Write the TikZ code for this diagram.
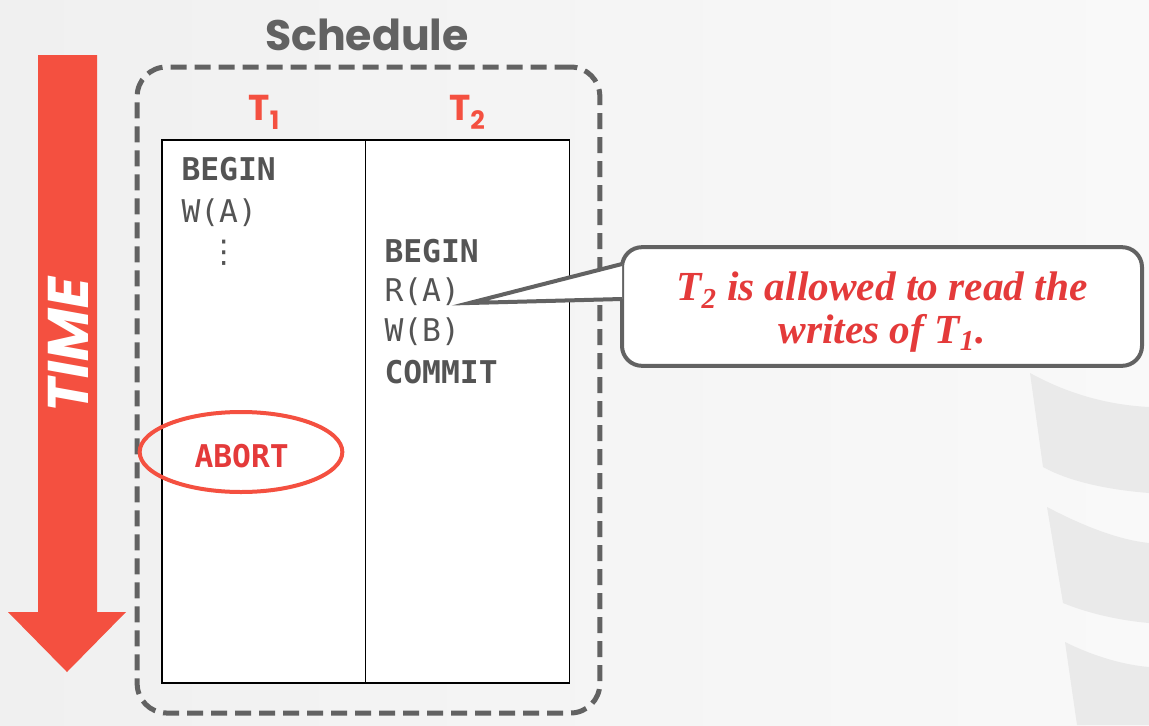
\documentclass[tikz,border=0pt]{standalone}
\usepackage{fontspec}
\setmainfont{Liberation Serif}
\newfontfamily\headfont{Poppins}
\newfontfamily\timefont{Poppins}[FakeSlant=0.18]
\newfontfamily\codefont{DejaVu Sans Mono}
\newfontfamily\symfont{DejaVu Sans}
\usetikzlibrary{shapes.geometric}

\definecolor{slidered}{RGB}{244,80,64}
\definecolor{notered}{RGB}{228,58,58}
\definecolor{boxgray}{RGB}{98,98,98}
\definecolor{codegray}{RGB}{84,84,84}
\definecolor{bgleft}{RGB}{240,240,240}
\definecolor{bgright}{RGB}{249,249,249}
\definecolor{dbgray}{RGB}{234,234,234}

\newcommand{\tsub}[1]{\raisebox{-7pt}{\fontsize{19}{19}\selectfont #1}}

\tikzset{every picture/.style={line width=0.75pt}}
\tikzset{
	code/.style={font=\codefont\fontsize{23.5}{28}\selectfont, text=codegray, inner sep=0.75pt, anchor=base west},
	codebold/.style={code, font=\codefont\bfseries\fontsize{23.5}{28}\selectfont},
	tlabel/.style={font=\headfont\bfseries\fontsize{27}{30}\selectfont, text=slidered, inner sep=0.75pt, anchor=base},
	column/.style={draw=black, fill=white, line width=1.1pt, minimum width=153pt, minimum height=407pt, inner sep=0pt},
	schedbox/.style={draw=boxgray, line width=3.75pt, dash pattern=on 12pt off 6pt, rounded corners=22pt, minimum width=347pt, minimum height=484.5pt, inner sep=0pt},
	abortring/.style={ellipse, draw=slidered, line width=3pt, minimum width=152pt, minimum height=60pt, inner sep=0pt},
	notebox/.style={draw=boxgray, fill=white, line width=3pt, rounded corners=15pt, minimum width=390pt, minimum height=89pt, inner sep=0pt},
	notetext/.style={align=center, text=notered, inner sep=0pt, font=\bfseries\itshape\fontsize{31}{32}\selectfont},
	pointer/.style={draw=boxgray, line width=3pt, line join=miter}
}

\begin{document}
\begin{tikzpicture}[x=0.75pt,y=0.75pt,yscale=-1,xscale=1]
	
	\useasboundingbox (0,0) rectangle (1149,725);
	\shade[left color=bgleft, right color=bgright] (0,0) rectangle (1149,725);
	
	% faint database in the background
	\fill[dbgray] (1030,373) .. controls (1070,395) and (1110,405) .. (1149,407) -- (1149,493) .. controls (1110,490) and (1070,482) .. (1043,467) -- cycle ;
	\fill[dbgray] (1047,507) .. controls (1085,527) and (1120,540) .. (1149,543) -- (1149,623) .. controls (1115,620) and (1085,612) .. (1063,603) -- cycle ;
	\fill[dbgray] (1065,642) .. controls (1095,657) and (1125,665) .. (1149,667) -- (1149,725) -- (1077,725) -- cycle ;
	
	% time arrow
	\fill[slidered] (38,55) -- (97,55) -- (97,612) -- (126,612) -- (67,672) -- (8,612) -- (38,612) -- cycle ;
	\node[rotate=90, inner sep=0pt, text=white, font=\timefont\bfseries\fontsize{43}{46}\selectfont] (timelbl) at (68,348) {TIME};
	
	% schedule
	\node[schedbox] (sched) at (368.5,390) {};
	\node[anchor=base, inner sep=0pt, text=boxgray, font=\headfont\bfseries\fontsize{32}{36}\selectfont] (schedtitle) at (367,50) {Schedule};
	
	\node[column] (colone) at (264,411.5) {};
	\node[column] (coltwo) at (467.5,411.5) {};
	\node[tlabel] (tone) at (264,120) {T\tsub{1}};
	\node[tlabel] (ttwo) at (467,120) {T\tsub{2}};
	
	% T1
	\node[codebold] (beginone) at (180,180) {BEGIN};
	\node[code] (wa) at (180,222) {W(A)};
	\node[code, anchor=base, font=\symfont\fontsize{23.5}{28}\selectfont] (vdots) at (224,262) {⋮};
	\node[abortring] (abortring) at (241,452) {};
	\node[codebold, text=notered] (abort) at (193,467) {ABORT};
	
	% T2
	\node[codebold] (begintwo) at (383,262) {BEGIN};
	\node[code] (ra) at (383,301) {R(A)};
	\node[code] (wb) at (383,341) {W(B)};
	\node[codebold] (commit) at (383,383) {COMMIT};
	
	% callout
	\node[notebox] (note) at (882,306.5) {};
	\node[notetext] (notetxt) at (882,312) {T\textsubscript{2} is allowed to read the\\writes of T\textsubscript{1}.};
	\coordinate (tip) at ([xshift=6pt,yshift=1.5pt]ra.base east);
	\path (note.west) ++(2,-42.5) coordinate (ptop);
	\path (note.west) ++(2,-7.5) coordinate (pbot);
	\fill[white] (ptop) -- (tip) -- (pbot) -- cycle ;
	\draw[pointer] (ptop) -- (tip) -- (pbot) ;
	
\end{tikzpicture}
\end{document}
